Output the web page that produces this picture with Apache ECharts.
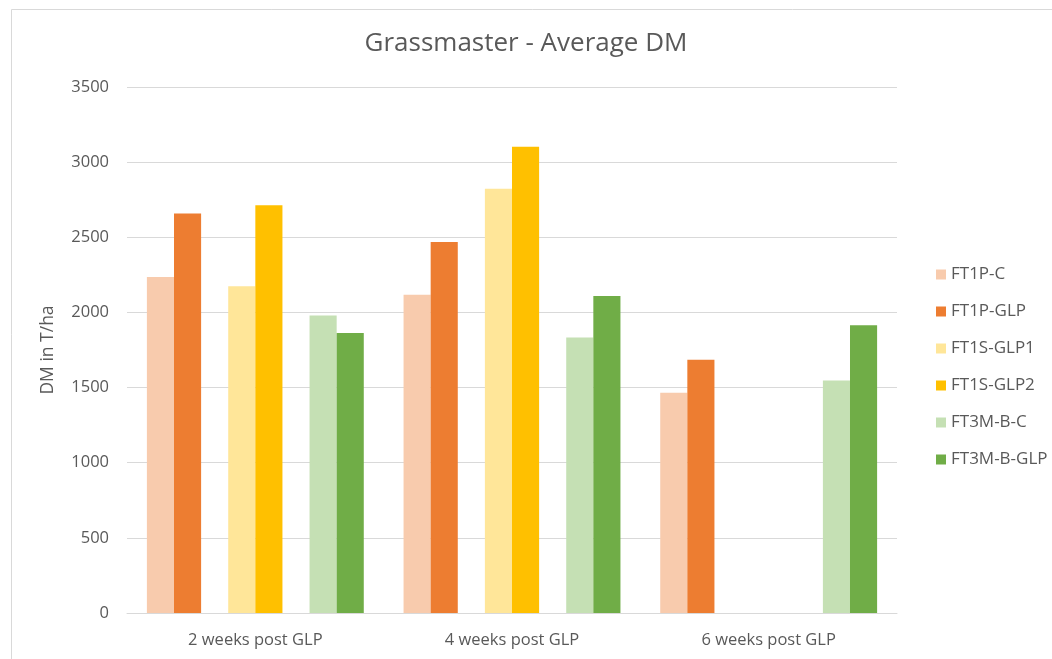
<!DOCTYPE html>
<html>
<head>
<meta charset="utf-8">
<title>Grassmaster - Average DM</title>
<script src="https://cdn.jsdelivr.net/npm/echarts@6/dist/echarts.min.js"></script>
<style>
  html, body { margin: 0; padding: 0; background: #fff; }
  #chart { width: 1052px; height: 659px; }
</style>
</head>
<body>
<div id="chart"></div>
<script>
// categories and values
const categories = ['2 weeks post GLP', '4 weeks post GLP', '6 weeks post GLP'];
const ft1pC = [2236, 2118, 1465];
const ft1pGlp = [2659, 2469, 1685];
const ft1sGlp1 = [2174, 2823, null];
const ft1sGlp2 = [2713, 3102, null];
const ft3mbC = [1980, 1833, 1547];
const ft3mbGlp = [1863, 2110, 1915];
const yTicks = [0, 500, 1000, 1500, 2000, 2500, 3000, 3500];

const seriesNames = ['FT1P-C', 'FT1P-GLP', 'FT1S-GLP1', 'FT1S-GLP2', 'FT3M-B-C', 'FT3M-B-GLP'];
const colors = ['#F8CBAD', '#ED7D31', '#FFE699', '#FFC000', '#C5E0B4', '#70AD47'];
const textColor = '#595959';
const font = '"Open Sans", sans-serif';

const chart = echarts.init(document.getElementById('chart'));

// one bar series
const bar = (name, data, color) => ({
  name: name,
  type: 'bar',
  data: data,
  barGap: '0%',
  barCategoryGap: '15.5%',
  itemStyle: { color: color },
  emphasis: { disabled: true }
});

// empty slot between the pairs, as in the original chart
const spacer = () => ({ type: 'bar', data: [], barGap: '0%', barCategoryGap: '15.5%' });

const option = {
  backgroundColor: '#fff',
  animation: false,
  textStyle: { fontFamily: font },
  title: {
    text: 'Grassmaster - Average DM',
    left: 'center',
    top: 26,
    textStyle: { color: textColor, fontSize: 26, fontWeight: 'normal', fontFamily: font }
  },
  legend: {
    data: seriesNames,
    orient: 'vertical',
    left: 931,
    top: 261,
    itemWidth: 10,
    itemHeight: 10,
    itemGap: 20,
    icon: 'rect',
    textStyle: { color: textColor, fontSize: 17, fontFamily: font }
  },
  grid: { left: 127, right: 155, top: 87, bottom: 46 },
  xAxis: {
    type: 'category',
    data: categories,
    axisLine: { lineStyle: { color: '#d9d9d9', width: 1 } },
    axisTick: { show: false },
    axisLabel: { color: textColor, fontSize: 16.5, margin: 19, fontFamily: font }
  },
  yAxis: {
    type: 'value',
    min: yTicks[0],
    max: yTicks[yTicks.length - 1],
    interval: 500,
    name: 'DM in T/ha',
    nameLocation: 'middle',
    nameGap: 70,
    nameRotate: 90,
    nameTextStyle: { color: textColor, fontSize: 17.5, fontFamily: font },
    axisLine: { show: false },
    axisTick: { show: false },
    axisLabel: {
      color: textColor,
      fontSize: 16.5,
      margin: 18,
      fontFamily: font,
      formatter: value => String(value)
    },
    splitLine: { lineStyle: { color: '#d9d9d9', width: 1 } }
  },
  graphic: [{
    type: 'rect',
    left: 9,
    top: 7,
    shape: { width: 1100, height: 700 },
    style: { fill: 'none', stroke: '#d9d9d9', lineWidth: 1 },
    silent: true
  }],
  series: [
    bar(seriesNames[0], ft1pC, colors[0]),
    bar(seriesNames[1], ft1pGlp, colors[1]),
    spacer(),
    bar(seriesNames[2], ft1sGlp1, colors[2]),
    bar(seriesNames[3], ft1sGlp2, colors[3]),
    spacer(),
    bar(seriesNames[4], ft3mbC, colors[4]),
    bar(seriesNames[5], ft3mbGlp, colors[5])
  ]
};

chart.setOption(option);
</script>
</body>
</html>
